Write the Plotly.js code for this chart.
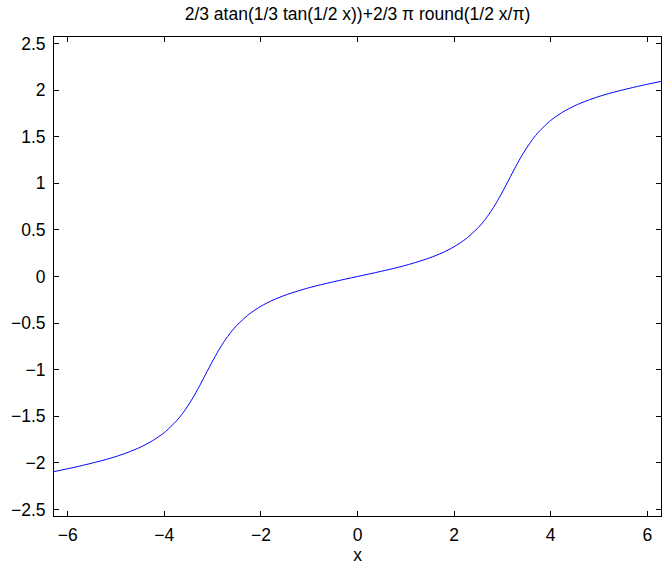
<!DOCTYPE html>
<html>
<head>
<meta charset="utf-8">
<script src="https://cdn.plot.ly/plotly-3.0.1.min.js"></script>
<style>html,body{margin:0;padding:0;background:#fff;}#chart{width:662px;height:570px;}</style>
</head>
<body>
<div id="chart"></div>
<script>
// Values
const xValues = [
  -6.2832, -6.0, -5.75, -5.5, -5.25, -5.0, -4.75, -4.5, -4.25, -4.0, -3.75, -3.625, -3.5, -3.375, -3.25, -3.1416,
  -3.0, -2.875, -2.75, -2.625, -2.5, -2.25, -2.0, -1.75, -1.5, -1.25, -1.0, -0.75, -0.5, -0.25,
  0.0, 0.25, 0.5, 0.75, 1.0, 1.25, 1.5, 1.75, 2.0, 2.25, 2.5, 2.625, 2.75, 2.875, 3.0,
  3.1416, 3.25, 3.375, 3.5, 3.625, 3.75, 4.0, 4.25, 4.5, 4.75, 5.0, 5.25, 5.5, 5.75, 6.0, 6.2832
];
const yValues = [
  -2.094, -2.063, -2.034, -2.003, -1.970, -1.932, -1.887, -1.833, -1.765, -1.675, -1.551, -1.472, -1.379, -1.273, -1.155, -1.047,
  -0.907, -0.792, -0.689, -0.600, -0.525, -0.406, -0.319, -0.253, -0.201, -0.158, -0.120, -0.087, -0.057, -0.028,
  0.000, 0.028, 0.057, 0.087, 0.120, 0.158, 0.201, 0.253, 0.319, 0.406, 0.525, 0.600, 0.689, 0.792, 0.907,
  1.047, 1.155, 1.273, 1.379, 1.472, 1.551, 1.675, 1.765, 1.833, 1.887, 1.932, 1.970, 2.003, 2.034, 2.063, 2.094
];
const xTicks = [-6, -4, -2, 0, 2, 4, 6];
const yTicks = [-2.5, -2, -1.5, -1, -0.5, 0, 0.5, 1, 1.5, 2, 2.5];
const titleText = "2/3 atan(1/3 tan(1/2 x))+2/3 \u03c0 round(1/2 x/\u03c0)";

const font = "Liberation Sans, Arial, Helvetica, sans-serif";
const fsize = 17.5;
const axisCommon = {
  showline: true, linecolor: "#000", linewidth: 1, mirror: "allticks",
  ticks: "inside", ticklen: 5, tickwidth: 1, tickcolor: "#000",
  showgrid: false, zeroline: false,
  tickfont: {family: font, size: fsize, color: "#000"}
};
Plotly.newPlot("chart", [{
  x: xValues, y: yValues, type: "scatter", mode: "lines",
  line: {color: "#0000ff", width: 1, shape: "spline", smoothing: 0.6},
  hoverinfo: "skip"
}], {
  width: 662, height: 570,
  margin: {l: 54, r: 1, t: 37, b: 54, pad: 0},
  paper_bgcolor: "#fff", plot_bgcolor: "#fff",
  showlegend: false,
  title: {text: titleText, font: {family: font, size: fsize, color: "#000"},
          x: 357.5 / 662, xanchor: "center", y: 1 - 14 / 570, yref: "container", yanchor: "middle"},
  xaxis: Object.assign({}, axisCommon, {
    range: [-6.2832, 6.2832], tickvals: xTicks, ticklabelstandoff: 3,
    title: {text: "x", font: {family: font, size: fsize, color: "#000"}, standoff: 2}
  }),
  yaxis: Object.assign({}, axisCommon, {
    range: [-2.57, 2.57], tickvals: yTicks, ticklabelstandoff: 4
  })
}, {displayModeBar: false, staticPlot: true});
</script>
</body>
</html>
